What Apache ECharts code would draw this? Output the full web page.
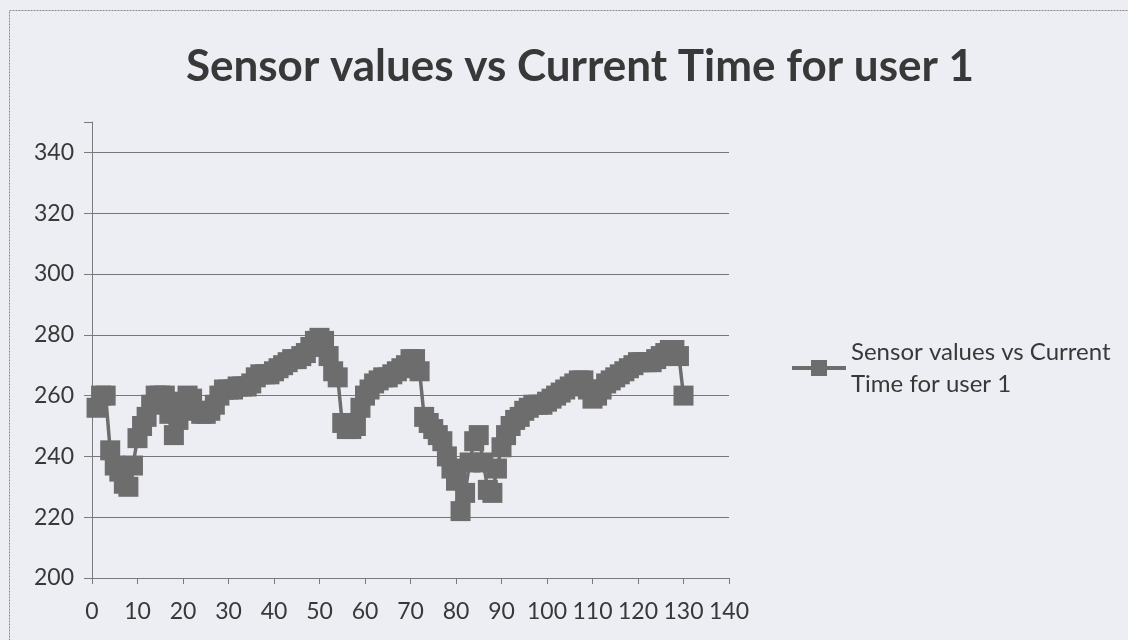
<!DOCTYPE html>
<html><head><meta charset="utf-8">
<script src="https://cdn.jsdelivr.net/npm/echarts@6/dist/echarts.min.js"></script>
<style>html,body{margin:0;padding:0;background:#edeef3}#c{width:1128px;height:640px}</style>
</head><body><div id="c"></div>
<script>
const titleText = 'Sensor values vs Current Time for user 1';
const seriesName = 'Sensor values vs Current Time for user 1';
const timeValues = [1,2,3,4,5,6,7,8,9,10,11,12,13,14,15,16,17,18,19,20,21,22,23,24,25,26,27,28,29,30,31,32,33,34,35,36,37,38,39,40,41,42,43,44,45,46,47,48,49,50,51,52,53,54,55,56,57,58,59,60,61,62,63,64,65,66,67,68,69,70,71,72,73,74,75,76,77,78,79,80,81,82,83,84,85,86,87,88,89,90,91,92,93,94,95,96,97,98,99,100,101,102,103,104,105,106,107,108,109,110,111,112,113,114,115,116,117,118,119,120,121,122,123,124,125,126,127,128,129,130];
const sensorValues = [256,260,260,242,237,235,231,230,237,246,250,253,257,260,260,260,254,247,252,258,260,259,255,254,254,255,257,260,262,262,262,263,263,263,264,266,267,267,267,268,269,270,271,272,272,273,274,276,278,279,278,273,268,266,251,249,249,250,256,260,262,264,265,266,266,267,268,269,270,272,272,268,253,251,249,247,245,240,236,232,222,228,238,245,247,238,229,228,236,243,247,250,252,253,255,256,257,257,257,258,259,260,261,262,263,264,265,265,262,259,260,262,264,265,266,267,268,269,270,271,271,271,271,272,273,274,275,275,273,260];
const xTicks = {min:0, max:140, interval:10};
const yTicks = {min:200, max:350, interval:20};

const data = timeValues.map((t,i)=>[t, sensorValues[i]]);
const chart = echarts.init(document.getElementById('c'), null, {renderer:'canvas'});
const txt = '#383838', axisC = '#7a7a7a', markC = '#6d6d6d';
chart.setOption({
  backgroundColor:'#edeef3',
  animation:false,
  title:{text:titleText, left:575, textAlign:'center', top:40,
    textStyle:{fontFamily:'Lato', fontWeight:'bold', fontSize:44, color:txt}},
  graphic:[{type:'rect', shape:{x:9.5,y:10.5,width:1140,height:660},
    style:{fill:null, stroke:'#8a8a8a', lineWidth:1, lineDash:[2,1]}, silent:true}],
  grid:{left:92, right:399, top:122, bottom:62},
  legend:{left:785, top:315, itemWidth:54, itemHeight:20, itemGap:0,
    lineStyle:{width:4, color:markC},
    textStyle:{fontFamily:'Lato', fontSize:24, color:txt, lineHeight:32, padding:[32,0,0,0]},
    formatter:()=> 'Sensor values vs Current\nTime for user 1'},
  xAxis:{type:'value', min:xTicks.min, max:xTicks.max, interval:xTicks.interval,
    axisLine:{lineStyle:{color:axisC, width:1}},
    axisTick:{show:true, inside:false, length:6, lineStyle:{color:axisC}},
    splitLine:{show:false},
    axisLabel:{fontFamily:'Lato', fontSize:23, color:txt, margin:22}},
  yAxis:{type:'value', min:yTicks.min, max:yTicks.max, interval:yTicks.interval,
    axisLine:{show:true, lineStyle:{color:axisC, width:1}},
    axisTick:{show:true, length:8, lineStyle:{color:axisC}},
    splitLine:{show:true, showMaxLine:false, lineStyle:{color:'#777', width:1.2}},
    axisLabel:{fontFamily:'Lato', fontSize:23, color:txt, margin:18,
      formatter:v=> v===yTicks.max ? '' : String(v)}},
  series:[{name:seriesName, type:'line', data:data, symbol:'rect', symbolSize:20,
    showAllSymbol:true, color:markC,
    lineStyle:{color:markC, width:3.5}, itemStyle:{color:markC}}]
});
</script></body></html>
